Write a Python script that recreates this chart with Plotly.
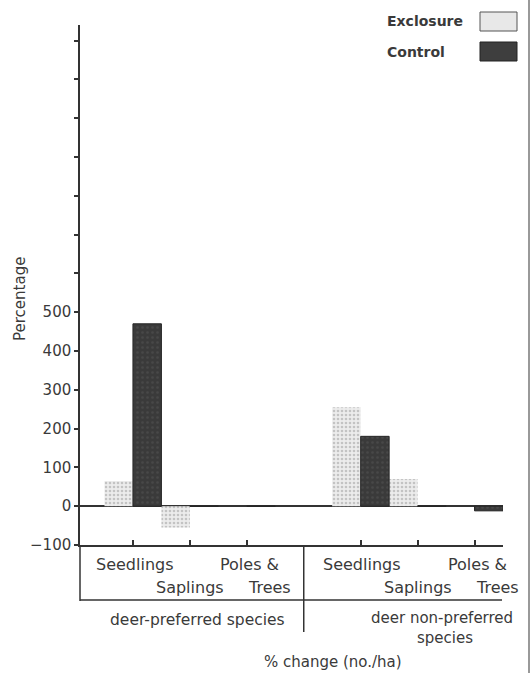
import plotly.graph_objects as go

# ---- data ----
groups = ["deer-preferred species", "deer non-preferred<br>species"]
stages = ["Seedlings", "Saplings", "Poles &<br>Trees"]
exclosure = [65, -55, 0, 255, 70, 0]
control = [470, 0, 0, 180, 0, -12]
y_tick_values = [-100, 0, 100, 200, 300, 400, 500, 600, 700, 800, 900, 1000, 1100, 1200]
y_tick_labels = ["\u2212100", "0", "100", "200", "300", "400", "500", "", "", "", "", "", "", ""]

# x positions: three stages per group, one empty slot between groups
xpos = [i + 4 * g for g in range(len(groups)) for i in range(len(stages))]

W, H = 531, 673
L, R, T, B = 80, 28, 25, 128
PH = H - T - B  # plot height
PW = W - L - R


def py(p):
    """pixel y -> paper y"""
    return (H - B - p) / PH


def px(p):
    """pixel x -> paper x"""
    return (p - L) / PW


FONT = "DejaVu Sans"
TXT = "#3a3a3a"

fig = go.Figure()
fig.add_trace(go.Bar(
    x=xpos, y=exclosure, name="Exclosure", offset=-0.5, width=0.5,
    marker=dict(color="#e6e6e6", line=dict(width=0),
                pattern=dict(shape=".", fgcolor="#9a9a9a", bgcolor="#ececec", size=4, solidity=0.35)),
    showlegend=False,
))
fig.add_trace(go.Bar(
    x=xpos, y=control, name="Control", offset=0, width=0.5,
    marker=dict(color="#3e3e3e", line=dict(color="#262626", width=1),
                pattern=dict(shape=".", fgcolor="#555555", bgcolor="#3a3a3a", size=5, solidity=0.2)),
    showlegend=False,
))

fig.update_layout(
    width=W, height=H,
    margin=dict(l=L, r=R, t=T, b=B),
    plot_bgcolor="white", paper_bgcolor="white",
    font=dict(family=FONT, size=15, color=TXT),
    barmode="overlay",
)
fig.update_xaxes(
    range=[-0.93, 6.5], showgrid=False, zeroline=False,
    showline=True, linecolor="#333", linewidth=1.5,
    tickvals=[0, 1, 2, 4, 5, 6], ticks="inside", ticklen=5, tickcolor="#333", tickwidth=1.5,
    showticklabels=False,
)
fig.update_yaxes(
    range=[-100, 1240], showgrid=False,
    zeroline=True, zerolinecolor="#333", zerolinewidth=1.5,
    showline=True, linecolor="#333", linewidth=1.5,
    tickvals=y_tick_values, ticktext=y_tick_labels,
    ticks="outside", ticklen=4, tickcolor="#333", tickwidth=1.5,
    tickfont=dict(size=15, color=TXT),
)

shapes = []
# y axis line extension through label table
shapes.append(dict(type="line", xref="paper", yref="paper", x0=0, x1=0, y0=0, y1=py(601),
                   line=dict(color="#333", width=1.5)))
# lower horizontal line of label table
shapes.append(dict(type="line", xref="paper", yref="paper", x0=0, x1=px(502), y0=py(600), y1=py(600),
                   line=dict(color="#333", width=1.5)))
# divider between groups
shapes.append(dict(type="line", xref="x", yref="paper", x0=3, x1=3, y0=0, y1=py(632),
                   line=dict(color="#333", width=1.5)))
# right border line
shapes.append(dict(type="line", xref="paper", yref="paper", x0=px(529), x1=px(529), y0=py(0), y1=py(673),
                   line=dict(color="#777", width=1.5)))
# legend boxes
shapes.append(dict(type="rect", xref="paper", yref="paper", x0=px(480), x1=px(517), y0=py(31), y1=py(12),
                   fillcolor="#e8e8e8", line=dict(color="#555", width=1)))
shapes.append(dict(type="rect", xref="paper", yref="paper", x0=px(480), x1=px(517), y0=py(61), y1=py(42),
                   fillcolor="#3e3e3e", line=dict(color="#222", width=1)))
fig.update_layout(shapes=shapes)

ann = []


def label(text, x, ypix, xref="x", xanchor="center", size=16, bold=False):
    ann.append(dict(text=("<b>%s</b>" % text) if bold else text, x=x, y=py(ypix), xref=xref, yref="paper",
                    xanchor=xanchor, yanchor="middle", showarrow=False,
                    font=dict(family=FONT, size=size, color=TXT)))


for g in range(len(groups)):
    base = 4 * g
    label("Seedlings", base + 0.03, 564)
    label("Saplings", base + 1.0, 587)
    label("Poles &", base + 2.05, 564)
    label("Trees", base + 2.4, 587)

label("deer-preferred species", 1.14, 620, size=15.5)
label("deer non-preferred", 5.42, 618, size=15)
label("species", 5.48, 638, size=15)
label("% change (no./ha)", 3.52, 662, size=15)

# y title
ann.append(dict(text="Percentage", x=px(20), y=py(299), xref="paper", yref="paper",
                textangle=-90, showarrow=False, xanchor="center", yanchor="middle",
                font=dict(family=FONT, size=15, color=TXT)))
# legend texts
label("Exclosure", px(385), 21, xref="paper", xanchor="left", size=14, bold=True)
label("Control", px(385), 52, xref="paper", xanchor="left", size=14, bold=True)

fig.update_layout(annotations=ann)
fig.write_html("out.html", config={"displayModeBar": False},
               post_script="document.body.style.margin='0';document.body.style.overflow='hidden';")
